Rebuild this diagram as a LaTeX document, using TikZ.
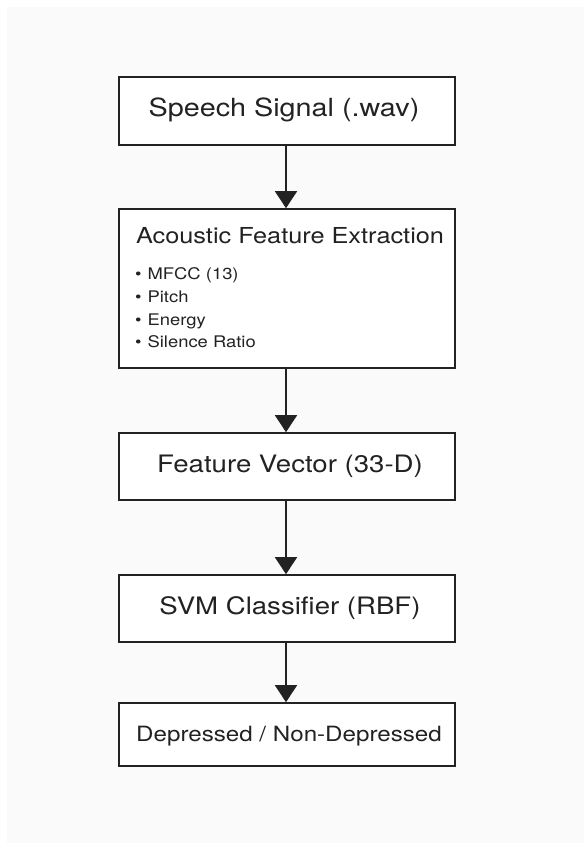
\documentclass[tikz,border=0pt]{standalone}
\usepackage{fontspec}
\setmainfont{TeX Gyre Heros}[FakeStretch=1.15]
\usetikzlibrary{arrows.meta}
\definecolor{ink}{RGB}{34,34,34}
\definecolor{bg}{RGB}{250,250,251}
\begin{document}
\begin{tikzpicture}[x=1pt,y=-1pt,
  stagebox/.style={draw=ink,line width=1.6pt,fill=white,inner sep=0pt},
  txt/.style={text=ink,inner sep=0pt,anchor=base},
  itm/.style={text=ink,inner sep=0pt,anchor=base west,font=\fontsize{16}{20}\selectfont},
  flow/.style={draw=ink,line width=1.6pt,-{Triangle[width=22pt,length=17pt]}}]
\useasboundingbox (0,0) rectangle (584,843);
\fill[white] (0,0) rectangle (584,843);
\fill[bg] (7,7) rectangle (584,843);
% boxes
\node[stagebox,minimum width=336pt,minimum height=68pt] (b1) at (287,111) {};
\node[stagebox,minimum width=336pt,minimum height=159pt] (b2) at (287,288.5) {};
\node[stagebox,minimum width=336pt,minimum height=67pt] (b3) at (287,466.5) {};
\node[stagebox,minimum width=336pt,minimum height=67pt] (b4) at (287,608.5) {};
\node[stagebox,minimum width=336pt,minimum height=63pt] (b5) at (287,734.5) {};
% texts
\node[txt,font=\fontsize{25}{29}\selectfont] (t1) at (284,116.5) {Speech Signal (.wav)};
\node[txt,font=\fontsize{22}{26}\selectfont] (t2) at (290,243) {Acoustic Feature Extraction};
\node[itm] (l1) at (135,279.3) {\textbullet\hspace{6pt}MFCC (13)};
\node[itm] (l2) at (135,302) {\textbullet\hspace{6pt}Pitch};
\node[itm] (l3) at (135,325) {\textbullet\hspace{6pt}Energy};
\node[itm] (l4) at (135,347.7) {\textbullet\hspace{6pt}Silence Ratio};
\node[txt,font=\fontsize{24}{28}\selectfont] (t3) at (290,472.7) {Feature Vector (33-D)};
\node[txt,font=\fontsize{24}{28}\selectfont] (t4) at (290,614) {SVM Classifier (RBF)};
\node[txt,font=\fontsize{21}{25}\selectfont] (t5) at (289,741.7) {Depressed / Non-Depressed};
% arrows
\draw[flow] ([xshift=-1pt]b1.south) -- ([xshift=-1pt]b2.north);
\draw[flow] ([xshift=-1pt]b2.south) -- ([xshift=-1pt]b3.north);
\draw[flow] ([xshift=-1pt]b3.south) -- ([xshift=-1pt]b4.north);
\draw[flow] ([xshift=-1pt]b4.south) -- ([xshift=-1pt]b5.north);
\end{tikzpicture}
\end{document}
